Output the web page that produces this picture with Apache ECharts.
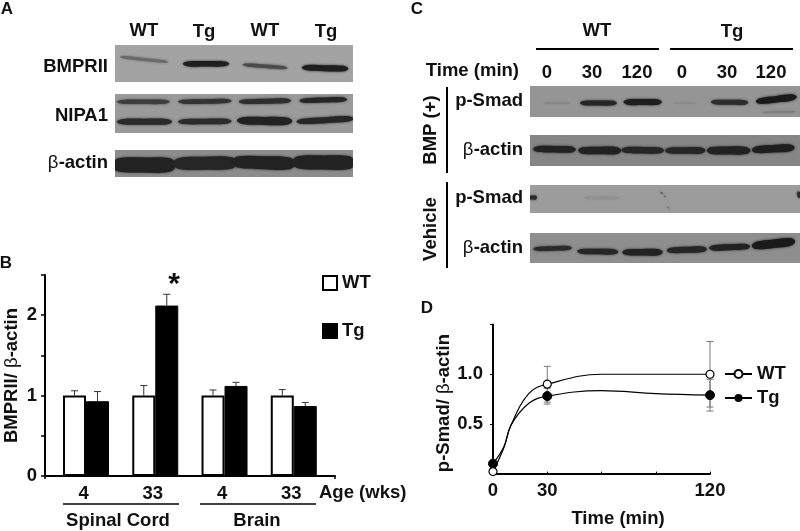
<!DOCTYPE html>
<html><head><meta charset="utf-8">
<style>html,body{margin:0;padding:0;background:#fff}#c{width:800px;height:531px;filter:blur(0.35px)}</style>
<script src="https://cdn.jsdelivr.net/npm/echarts@6/dist/echarts.min.js"></script>
</head><body><div id="c"></div>
<script>
// ---- Panel B data
const ageLabels = ['4','33','4','33'];
const bWT = [1.0,1.0,1.0,1.0];
const bTg = [0.93,2.12,1.12,0.87];
const bWTTop = [1.06,1.125,1.07,1.075];
const bTgTop = [1.05,2.26,1.165,0.915];
// ---- Panel D data: measured time points and their error bars
const dTime = [0,30,120];
const dWT = [0.02,0.90,1.0];
const dTg = [0.10,0.78,0.79];
const dWTErr = [0.02,0.18,0.33];
const dTgErr = [0.02,0.08,0.16];
// ---- Panel D fitted curves
const curveTime = [0,6,10,20,30,60,90,120];
const curveWT = [0.02,0.26,0.49,0.81,0.90,1.0,1.0,1.0];
const curveTg = [0.10,0.27,0.49,0.71,0.78,0.835,0.805,0.79];
// ---- Blot bands: [lane, laneStart, laneEnd, migrationLeft%, migrationRight%, thickness, shade]
const blotBMPRII = [[0,.08,.9,32,46,3,'#6a6a6a'],[1,.14,.92,51,51,5.5,'#1e1e1e'],[2,.14,.9,53,62,3.5,'#4a4a4a'],[3,.14,.92,61,64,6,'#1e1e1e']];
const blotNIPA1 = [[0,.03,.92,20,20,4.5,'#3e3e3e'],[1,.06,.96,20,18,4.5,'#333'],[2,.08,.96,20,17,5,'#2e2e2e'],[3,.1,.9,17,14,5,'#262626'],
  [0,.03,.96,71,71,6,'#2a2a2a'],[1,.06,.96,71,70,5.5,'#2c2c2c'],[2,.05,.98,68,70,8,'#222'],[3,.05,1.02,71,63,6,'#262626']];
const blotActinA = [[0,-.06,1.03,55,56,15,'#222'],[1,-.03,1.06,50,48,13,'#262626'],[2,-.04,1.04,44,50,13,'#222'],[3,-.03,1.04,45,47,14,'#222']];
const blotSmadBMP = [[0,.3,.9,55,55,1.5,'#858585'],[1,.11,.93,55,55,5,'#262626'],[2,.08,.93,52,52,6,'#1e1e1e'],[3,.2,.7,55,55,1.5,'#8a8a8a'],[4,.02,.85,52,53,5,'#2c2c2c'],[5,.02,.93,50,35,6.5,'#1a1a1a'],[5,.15,.9,85,83,1.5,'#7c7c7c']];
const blotActinBMP = [[0,.07,1.02,45,47,6.5,'#222'],[1,.07,1.03,50,50,7.5,'#222'],[2,.03,.98,48,50,6.5,'#262626'],[3,0,.9,50,50,6.5,'#262626'],[4,-.07,.9,50,50,8,'#222'],[5,-.07,.88,48,41,7.5,'#1e1e1e']];
const blotSmadVeh = [[0,-.02,.15,45,45,4,'#2a2a2a'],[5,.94,1.02,32,38,6,'#2a2a2a'],[1,.2,1,46,46,3,'#909090'],[2,.9,.95,27,31,1.5,'#555'],[2,.98,1.02,40,42,1.5,'#666'],[3,.04,.1,78,82,1.5,'#777']];
const blotActinVeh = [[0,.07,.93,53,50,4.5,'#2a2a2a'],[1,.05,.96,61,63,5.5,'#262626'],[2,.05,.95,64,64,6.5,'#222'],[3,.04,.93,58,54,6,'#262626'],[4,-.02,.89,50,45,6,'#222'],[5,-.07,.89,43,28,8.5,'#1a1a1a']];

const FF = '"Liberation Sans", Arial, sans-serif';
const FS = 18.5;
const blots = [
 {d:blotBMPRII,  l:115,t:45, w:238,h:37,n:4,bg:'#a3a3a3'},
 {d:blotNIPA1,   l:115,t:94, w:238,h:39,n:4,bg:'#9a9a9a'},
 {d:blotActinA,  l:115,t:150,w:238,h:27,n:4,bg:'#8c8c8c'},
 {d:blotSmadBMP, l:530,t:86, w:270,h:31,n:6,bg:'#959595'},
 {d:blotActinBMP,l:530,t:135,w:270,h:31,n:6,bg:'#868686'},
 {d:blotSmadVeh, l:530,t:185,w:270,h:28,n:6,bg:'#9c9c9c'},
 {d:blotActinVeh,l:530,t:233,w:270,h:30,n:6,bg:'#8e8e8e'}
];

function errBars(xShift, color){
  return function(params, api){
    const x = api.value(0);
    const lo = api.coord([x, api.value(1)]);
    const hi = api.coord([x, api.value(2)]);
    const X = lo[0] + xShift;
    const ln = (a,b,c,d)=>({type:'line',shape:{x1:a,y1:b,x2:c,y2:d},style:{stroke:color,lineWidth:1}});
    const kids = [ln(X,lo[1],X,hi[1]), ln(X-3.5,hi[1],X+3.5,hi[1])];
    if (api.value(3)) kids.push(ln(X-3.5,lo[1],X+3.5,lo[1]));
    return {type:'group',children:kids};
  };
}
const blotShade = {};
function renderBand(params, api){
  const lane = api.value(0), cs = params.coordSys;
  const c = api.coord([lane, 0]);
  const bw = api.size([1,0])[0];
  const x0 = c[0]-bw/2;
  const yOf = v => cs.y + cs.height*v/100;
  const xa = x0+bw*api.value(1), xb = x0+bw*api.value(2);
  const ya = yOf(api.value(3)), yb = yOf(api.value(4));
  const t = api.value(5)/2, len = xb-xa;
  const shade = blotShade[params.seriesIndex][params.dataIndex];
  const pt = f => [xa+len*f, ya+(yb-ya)*f];
  const off = (f,s)=>{const p=pt(f);return [p[0],p[1]+s];};
  return {type:'group',
    clipPath:{type:'rect',shape:{x:cs.x,y:cs.y,width:cs.width,height:cs.height}},
    children:[{type:'polygon',
      shape:{smooth:0.35,points:[off(0,0),off(.1,-t*.85),off(.5,-t),off(.9,-t*.9),off(1,0),off(.9,t*.9),off(.5,t),off(.1,t*.85)]},
      style:{fill:shade,shadowBlur:2.5,shadowColor:shade}}]};
}

const grid = [
 {left:45,top:275,width:290,height:201,outerBoundsMode:'none'},       // B axes
 {left:51.4,top:275,width:277,height:201,outerBoundsMode:'none'},     // B bars
 {left:493,top:324.6,width:217,height:149,outerBoundsMode:'none'}     // D
];
const txt = {color:'#111',fontFamily:FF,fontSize:FS,fontWeight:'bold'};
const nameStyle = Object.assign({},txt,{rich:{g:{fontFamily:FF,fontSize:FS,fontWeight:'normal',color:'#111'}}});
const xAxis = [
 {gridIndex:0,type:'value',min:0,max:1,interval:1,axisLabel:{show:false},splitLine:{show:false},
  axisLine:{onZero:false,lineStyle:{color:'#000',width:2}},axisTick:{show:true,length:3,lineStyle:{color:'#000',width:1.5}}},
 {gridIndex:1,type:'category',data:ageLabels,axisLine:{show:false},axisTick:{show:false},
  axisLabel:Object.assign({margin:8,padding:[0,5,0,0]},txt)},
 {gridIndex:2,type:'value',min:0,max:120,interval:30,splitLine:{show:false},
  axisLine:{onZero:false,lineStyle:{color:'#000',width:2}},axisTick:{inside:true,length:2,lineStyle:{color:'#000'}},
  axisLabel:Object.assign({margin:8,formatter:v=>dTime.includes(v)?String(v):''},txt),
  name:'Time (min)',nameLocation:'middle',nameGap:36,
  nameTextStyle:Object.assign({padding:[0,0,0,33]},txt)}
];
const yAxis = [
 {gridIndex:0,type:'value',min:0,max:2.5,interval:0.5,splitLine:{show:false},
  axisLine:{onZero:false,lineStyle:{color:'#000',width:2}},axisTick:{length:4,lineStyle:{color:'#000',width:1.5}},
  axisLabel:Object.assign({margin:8,formatter:v=>Number.isInteger(v)?String(v):''},txt),
  name:'BMPRII/ {g|β}-actin',nameLocation:'middle',nameGap:24,nameTextStyle:nameStyle},
 {gridIndex:1,type:'value',min:0,max:2.5,show:false,splitLine:{show:false}},
 {gridIndex:2,type:'value',min:0,max:1.5,interval:0.5,splitLine:{show:false},
  axisLine:{onZero:false,lineStyle:{color:'#000',width:2}},axisTick:{length:3,lineStyle:{color:'#000'}},
  axisLabel:Object.assign({margin:10,formatter:v=>(v===0||v===1.5)?'':v.toFixed(1)},txt),
  name:'p-Smad/ {g|β}-actin',nameLocation:'middle',nameGap:40,nameTextStyle:Object.assign({padding:[0,8,0,0]},nameStyle)}
];
const curve = (ys)=>curveTime.map((t,i)=>dTime.includes(t)?[t,ys[i]]:{value:[t,ys[i]],symbol:'none'});
const series = [
 {name:'WT',type:'bar',xAxisIndex:1,yAxisIndex:1,data:bWT,barWidth:23,barGap:0,z:3,
  itemStyle:{color:'#fff',borderColor:'#000',borderWidth:2}},
 {name:'Tg',type:'bar',xAxisIndex:1,yAxisIndex:1,data:bTg,barWidth:23,barGap:0,z:3,
  itemStyle:{color:'#000',borderColor:'#000',borderWidth:1}},
 {type:'custom',xAxisIndex:1,yAxisIndex:1,z:2,renderItem:errBars(-11.5,'#333'),
  encode:{x:0,y:[1,2]},data:ageLabels.map((a,i)=>[i,bWT[i],bWTTop[i],0])},
 {type:'custom',xAxisIndex:1,yAxisIndex:1,z:2,renderItem:errBars(11.5,'#333'),
  encode:{x:0,y:[1,2]},data:ageLabels.map((a,i)=>[i,bTg[i],bTgTop[i],0])},
 {type:'custom',xAxisIndex:2,yAxisIndex:2,z:2,renderItem:errBars(0,'#777'),clip:false,
  encode:{x:0,y:[1,2]},data:dTime.map((t,i)=>[t,dWT[i]-dWTErr[i],dWT[i]+dWTErr[i],1])},
 {type:'custom',xAxisIndex:2,yAxisIndex:2,z:2,renderItem:errBars(0,'#777'),clip:false,
  encode:{x:0,y:[1,2]},data:dTime.map((t,i)=>[t,dTg[i]-dTgErr[i],dTg[i]+dTgErr[i],1])},
 {name:'Tg p-Smad',type:'line',xAxisIndex:2,yAxisIndex:2,smooth:0.4,clip:false,z:4,symbol:'circle',symbolSize:9,showAllSymbol:true,
  data:curve(curveTg),lineStyle:{color:'#000',width:1.2},itemStyle:{color:'#000',borderColor:'#000'}},
 {name:'WT p-Smad',type:'line',xAxisIndex:2,yAxisIndex:2,smooth:0.4,clip:false,z:5,symbol:'circle',symbolSize:8,showAllSymbol:true,
  data:curve(curveWT),lineStyle:{color:'#000',width:1.2},itemStyle:{color:'#fff',borderColor:'#000',borderWidth:1.2}}
];
blots.forEach(b=>{
  const gi = grid.length;
  grid.push({left:b.l,top:b.t,width:b.w,height:b.h,show:true,backgroundColor:b.bg,borderWidth:0,outerBoundsMode:'none'});
  xAxis.push({gridIndex:gi,type:'category',show:false,data:Array.from({length:b.n},(_,i)=>i)});
  yAxis.push({gridIndex:gi,type:'value',show:false,min:0,max:100,splitLine:{show:false}});
  blotShade[series.length] = b.d.map(r=>r[6]);
  series.push({type:'custom',xAxisIndex:gi,yAxisIndex:gi,renderItem:renderBand,silent:true,
    encode:{x:0},data:b.d.map(r=>r.slice(0,6))});
});

const graphic = [];
function T(text,x,y,opt){opt=opt||{};
  graphic.push({type:'text',x,y,rotation:opt.rot||0,silent:true,
    style:{text,fill:'#111',fontFamily:FF,fontSize:opt.fs||FS,fontWeight:opt.w||'bold',
      textAlign:opt.a||'center',textVerticalAlign:'middle'}});}
function L(x1,y1,x2,y2,w){graphic.push({type:'line',silent:true,shape:{x1,y1,x2,y2},style:{stroke:'#000',lineWidth:w||2}});}
function Beta(right,y){
  T('-actin',right,y,{a:'right'});
  T('β',right-49.5,y,{a:'right',w:'normal'});
}
// panel letters
T('A',7,9,{fs:17});T('B',6,263,{fs:17});T('C',417,9,{fs:17});T('D',427,308,{fs:17});
// panel A
T('WT',144,31);T('Tg',204,32);T('WT',265,31);T('Tg',326,32);
T('BMPRII',108,67,{a:'right'});T('NIPA1',108,116,{a:'right'});Beta(108,163);
// panel B
T('*',174,285,{fs:30});
T('Age (wks)',319,493,{a:'left'});
L(63,504,179,504,1.5);L(200,504,316,504,1.5);
T('Spinal Cord',118,521);T('Brain',257,521);
// panel C
T('WT',597,31);T('Tg',732,32);L(536,49,659,49);L(670,49,793,49);
T('Time (min)',519,71,{a:'right'});
[['0',547],['30',592],['120',637],['0',682],['30',727],['120',771]].forEach(p=>T(p[0],p[1],73));
T('p-Smad',523,101,{a:'right'});Beta(523,150);T('p-Smad',523,198,{a:'right'});Beta(523,248);
L(447,87,447,173);L(447,182,447,268);
T('BMP (+)',431,130,{rot:Math.PI/2});T('Vehicle',431,229,{rot:Math.PI/2});

const chart = echarts.init(document.getElementById('c'),null,{renderer:'canvas'});
chart.setOption({
  animation:false,backgroundColor:'#fff',grid,xAxis,yAxis,series,graphic,
  legend:[
   {data:[{name:'WT',icon:'rect'},{name:'Tg',icon:'rect'}],orient:'vertical',left:322,top:273,padding:0,itemWidth:14,itemHeight:14,itemGap:28,selectedMode:false,
    textStyle:Object.assign({lineHeight:20},txt)},
   {data:['WT p-Smad','Tg p-Smad'],orient:'vertical',left:724,top:364,padding:0,itemWidth:27,itemHeight:10,itemGap:4,selectedMode:false,
    formatter:n=>n.split(' ')[0],
    textStyle:Object.assign({lineHeight:20},txt)}
  ]
});
</script></body></html>
